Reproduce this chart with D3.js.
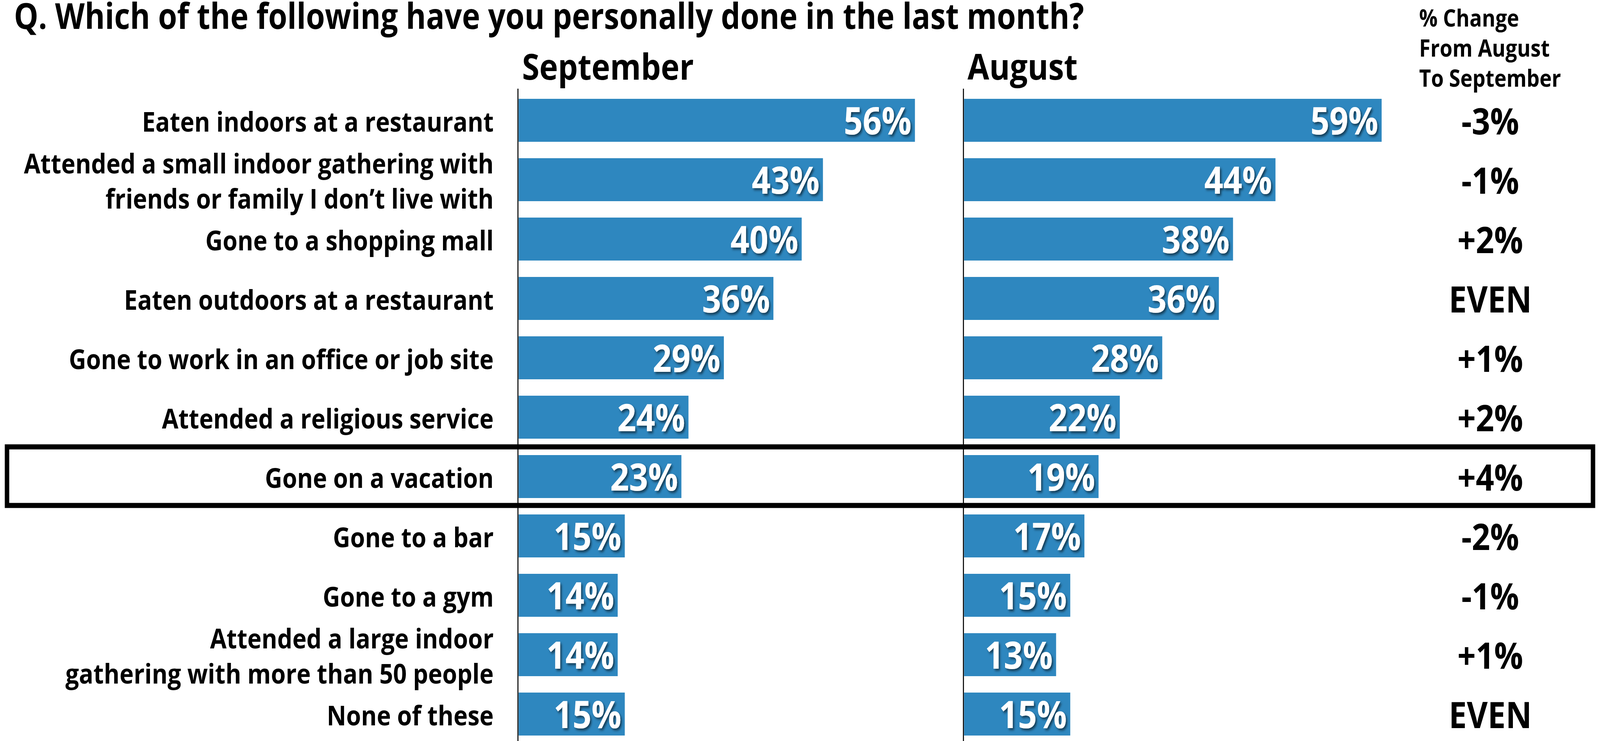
<!DOCTYPE html>
<html>
<head>
<meta charset="utf-8">
<script src="https://cdn.jsdelivr.net/npm/d3@7"></script>
<style>
  html, body { margin: 0; padding: 0; background: #fff; overflow: hidden; }
  svg { display: block; }
  text { font-family: "Open Sans", sans-serif; font-weight: 700; }
</style>
</head>
<body>
<svg id="chart"></svg>
<script>
// data
const categories = [
  "Eaten indoors at a restaurant",
  "Attended a small indoor gathering with friends or family I don’t live with",
  "Gone to a shopping mall",
  "Eaten outdoors at a restaurant",
  "Gone to work in an office or job site",
  "Attended a religious service",
  "Gone on a vacation",
  "Gone to a bar",
  "Gone to a gym",
  "Attended a large indoor gathering with more than 50 people",
  "None of these"
];
const labelLines = [
  ["Eaten indoors at a restaurant"],
  ["Attended a small indoor gathering with", "friends or family I don’t live with"],
  ["Gone to a shopping mall"],
  ["Eaten outdoors at a restaurant"],
  ["Gone to work in an office or job site"],
  ["Attended a religious service"],
  ["Gone on a vacation"],
  ["Gone to a bar"],
  ["Gone to a gym"],
  ["Attended a large indoor", "gathering with more than 50 people"],
  ["None of these"]
];
const september = [56, 43, 40, 36, 29, 24, 23, 15, 14, 14, 15];
const august = [59, 44, 38, 36, 28, 22, 19, 17, 15, 13, 15];
const changeLabels = ["-3%", "-1%", "+2%", "EVEN", "+1%", "+2%", "+4%", "-2%", "-1%", "+1%", "EVEN"];
const highlighted = "Gone on a vacation";
const title = "Q. Which of the following have you personally done in the last month?";
const panelTitles = ["September", "August"];
const changeTitle = ["% Change", "From August", "To September"];

// layout
const WIDTH = 4680;
const HEIGHT = 1897;
const BLUE = "#2E87BF";
const PX_PER_PCT = 20.7;
const PANELS = [
  { start: 1517, values: september, name: panelTitles[0] },
  { start: 2820, values: august, name: panelTitles[1] }
];
const CHANGE_X = 4359;

// scale the drawing to whatever window we get
const svg = d3.select("#chart")
  .attr("width", window.innerWidth)
  .attr("height", window.innerHeight)
  .attr("viewBox", `0 0 ${WIDTH} ${HEIGHT}`)
  .attr("preserveAspectRatio", "none");

// drop shadow for the white value labels
const defs = svg.append("defs");
defs.append("filter")
  .attr("id", "shadow")
  .attr("x", "-20%").attr("y", "-20%")
  .attr("width", "140%").attr("height", "150%")
  .append("feDropShadow")
  .attr("dx", 4).attr("dy", 5)
  .attr("stdDeviation", 3)
  .attr("flood-color", "#000")
  .attr("flood-opacity", 0.55);

const pad = 0.2763;
const y = d3.scaleBand()
  .domain(categories)
  .range([232, 232 + 152 * categories.length])
  .paddingInner(pad)
  .paddingOuter(pad / 2);
const mid = (c) => y(c) + y.bandwidth() / 2;

// title
svg.append("text")
  .attr("x", 41).attr("y", 74)
  .attr("font-size", 92)
  .attr("textLength", 3130)
  .attr("lengthAdjust", "spacingAndGlyphs")
  .text(title);

// category labels
const labels = svg.append("g").attr("text-anchor", "end").attr("font-size", 70);
categories.forEach((c, i) => {
  const lines = labelLines[i];
  const t = labels.append("text").attr("x", 1444);
  lines.forEach((ln, j) => {
    t.append("tspan")
      .attr("x", 1444)
      .attr("y", mid(c) + 29 + (j - (lines.length - 1) / 2) * 90)
      .text(ln);
  });
});

// bar panels
PANELS.forEach((p) => {
  const x = d3.scaleLinear().domain([0, 100]).range([p.start, p.start + 100 * PX_PER_PCT]);
  const g = svg.append("g");

  g.append("text")
    .attr("x", p.start + 10).attr("y", 204)
    .attr("font-size", 92)
    .text(p.name);

  g.selectAll("rect")
    .data(categories)
    .join("rect")
    .attr("x", x(0))
    .attr("y", (d) => y(d))
    .attr("width", (d, i) => x(p.values[i]) - x(0))
    .attr("height", y.bandwidth())
    .attr("fill", BLUE);

  g.selectAll("text.val")
    .data(categories)
    .join("text")
    .attr("class", "val")
    .attr("x", (d, i) => x(p.values[i]) - 10)
    .attr("y", (d) => mid(d) + 36)
    .attr("text-anchor", "end")
    .attr("font-size", 97)
    .attr("fill", "#fff")
    .attr("filter", "url(#shadow)")
    .text((d, i) => `${p.values[i]}%`);

  // axis baseline
  g.append("line")
    .attr("x1", x(0) - 2).attr("x2", x(0) - 2)
    .attr("y1", 227).attr("y2", HEIGHT)
    .attr("stroke", "#000")
    .attr("stroke-width", 3);
});

// change column
const ch = svg.append("g");
changeTitle.forEach((ln, i) => {
  ch.append("text")
    .attr("x", 4151).attr("y", 68 + i * 77)
    .attr("font-size", 60)
    .text(ln);
});
ch.selectAll("text.chg")
  .data(categories)
  .join("text")
  .attr("class", "chg")
  .attr("x", CHANGE_X)
  .attr("y", (d) => mid(d) + 36)
  .attr("text-anchor", "middle")
  .attr("font-size", 94)
  .text((d, i) => changeLabels[i]);

// highlight box around one row
svg.append("rect")
  .attr("x", 20.5)
  .attr("y", mid(highlighted) - y.step() / 2)
  .attr("width", 4639)
  .attr("height", y.step() - 2)
  .attr("fill", "none")
  .attr("stroke", "#000")
  .attr("stroke-width", 13);
</script>
</body>
</html>
